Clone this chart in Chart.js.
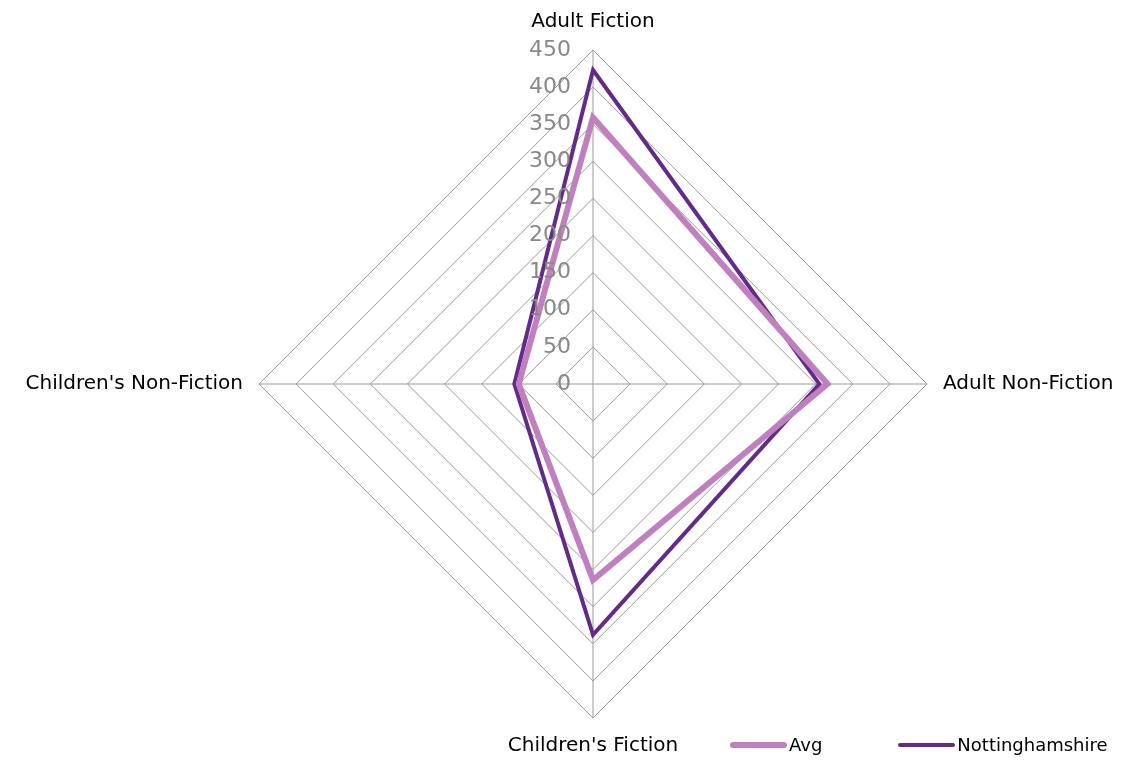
<!DOCTYPE html>
<html lang="en">
<head>
    <meta charset="UTF-8">
    <title>Book issues radar</title>
    <script src="https://cdn.jsdelivr.net/npm/chart.js"></script>
    <style>
        body {
            margin: 0;
            padding: 0;
            background: #fff;
            font-family: "DejaVu Sans", Verdana, sans-serif;
        }

        #wrap {
            position: relative;
            width: 1127px;
            height: 760px;
        }

        /* Legende unten rechts, auf Höhe der unteren Achsenbeschriftung */
        #legend {
            position: absolute;
            left: 730px;
            top: 734px;
            display: flex;
            font-size: 18px;
            color: #000;
        }

        .legend-item {
            display: flex;
            align-items: center;
            margin-right: 76px;
        }

        .legend-line {
            width: 57px;
            border-radius: 4px;
            margin-right: 2px;
        }
    </style>
</head>
<body>
    <div id="wrap">
        <canvas id="radarChart" width="1127" height="760"></canvas>
        <div id="legend"></div>
    </div>

    <script>
        // Daten
        const categories = ['Adult Fiction', 'Adult Non-Fiction', "Children's Fiction", "Children's Non-Fiction"];
        const avgValues = [359, 316, 264, 100];
        const nottsValues = [423, 305, 338, 106];
        const tickValues = [0, 50, 100, 150, 200, 250, 300, 350, 400, 450];

        const avgColor = 'rgb(192, 128, 192)';
        const nottsColor = 'rgb(100, 42, 138)';

        // Achsenbeschriftungen und Tick-Werte selbst zeichnen,
        // damit die Position des Netzes fest bleibt
        const labelPlugin = {
            id: 'labels',
            afterDraw(chart) {
                const scale = chart.scales.r;
                const c = chart.ctx;
                c.save();

                // Kategorien aussen
                c.font = '20px "DejaVu Sans"';
                c.fillStyle = '#000';
                c.textBaseline = 'middle';
                chart.data.labels.forEach((label, i) => {
                    const p = scale.getPointPosition(i, scale.drawingArea + 16);
                    let x = p.x;
                    let y = p.y;
                    if (Math.abs(p.x - scale.xCenter) < 1) {
                        c.textAlign = 'center';
                        y += p.y < scale.yCenter ? -12 : 12;
                    } else {
                        c.textAlign = p.x > scale.xCenter ? 'left' : 'right';
                    }
                    c.fillText(label, x, y);
                });

                // Tick-Werte links neben der senkrechten Achse
                c.font = '22px "DejaVu Sans"';
                c.fillStyle = '#888888';
                c.textAlign = 'right';
                tickValues.forEach(v => {
                    const y = scale.yCenter - scale.getDistanceFromCenterForValue(v);
                    c.fillText(String(v), scale.xCenter - 22, y);
                });
                c.restore();
            }
        };

        const ctx = document.getElementById('radarChart').getContext('2d');
        const radarChart = new Chart(ctx, {
            type: 'radar',
            data: {
                labels: categories,
                datasets: [
                    {
                        label: 'Avg',
                        data: avgValues,
                        borderColor: avgColor,
                        backgroundColor: avgColor,
                        borderWidth: 6,
                        fill: false,
                        pointRadius: 0,
                        pointHoverRadius: 0
                    },
                    {
                        label: 'Nottinghamshire',
                        data: nottsValues,
                        borderColor: nottsColor,
                        backgroundColor: nottsColor,
                        borderWidth: 4,
                        fill: false,
                        pointRadius: 0,
                        pointHoverRadius: 0
                    }
                ]
            },
            options: {
                responsive: false,
                animation: false,
                layout: {
                    padding: { left: 259, right: 200, top: 50, bottom: 42 }
                },
                plugins: {
                    legend: { display: false },
                    tooltip: { enabled: false }
                },
                scales: {
                    r: {
                        min: 0,
                        max: 450,
                        ticks: {
                            stepSize: 50,
                            display: false
                        },
                        grid: {
                            color: '#9a9a9a',
                            lineWidth: 1
                        },
                        angleLines: {
                            color: '#9a9a9a',
                            lineWidth: 1
                        },
                        pointLabels: {
                            display: false
                        }
                    }
                }
            },
            plugins: [labelPlugin]
        });

        // Eigene Legende mit Linien-Mustern
        const legend = document.getElementById('legend');
        radarChart.data.datasets.forEach(ds => {
            const item = document.createElement('div');
            item.className = 'legend-item';
            const line = document.createElement('span');
            line.className = 'legend-line';
            line.style.height = ds.borderWidth + 'px';
            line.style.background = ds.borderColor;
            const text = document.createElement('span');
            text.textContent = ds.label;
            item.appendChild(line);
            item.appendChild(text);
            legend.appendChild(item);
        });
    </script>
</body>
</html>
